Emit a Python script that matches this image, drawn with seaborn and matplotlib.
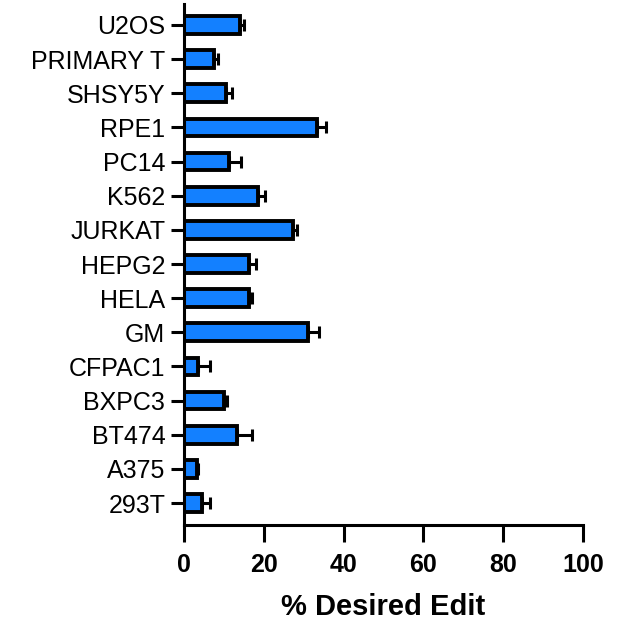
import numpy as np
import pandas as pd
import seaborn as sns
import matplotlib
matplotlib.use("Agg")
import matplotlib.pyplot as plt

# Editing efficiency per cell line (mean and upper error)
cell_lines = ["U2OS", "PRIMARY T", "SHSY5Y", "RPE1", "PC14", "K562", "JURKAT",
              "HEPG2", "HELA", "GM", "CFPAC1", "BXPC3", "BT474", "A375", "293T"]
edit_pct = [14.1, 7.6, 10.5, 33.3, 11.4, 18.5, 27.3,
            16.2, 16.3, 31.0, 3.5, 10.1, 13.4, 3.2, 4.6]
edit_err = [1.0, 0.8, 1.5, 2.2, 2.9, 1.8, 0.9,
            1.8, 0.8, 2.8, 3.0, 0.7, 3.7, 0.4, 1.8]
x_ticks = [0, 20, 40, 60, 80, 100]

df = pd.DataFrame({"cell": cell_lines, "pct": edit_pct, "err": edit_err})

sns.set_style("white")
plt.rcParams["font.family"] = ["Liberation Sans", "DejaVu Sans"]
plt.rcParams["text.color"] = "black"
plt.rcParams["axes.labelcolor"] = "black"
plt.rcParams["xtick.color"] = "black"
plt.rcParams["ytick.color"] = "black"

fig = plt.figure(figsize=(6.20, 6.21), dpi=100)
ax = fig.add_axes([184 / 620, 1 - 525 / 621, (583 - 184) / 620, (525 - 4) / 621])

bar_color = "#1380FF"
lw = 2.2
bar_lw = 2.8

# one-sided error bars, drawn under the bars
ax.errorbar(df["pct"], np.arange(len(df)),
            xerr=[np.zeros(len(df)), df["err"]],
            fmt="none", ecolor="black", elinewidth=lw, capsize=4.6,
            capthick=lw, zorder=1)

sns.barplot(data=df, x="pct", y="cell", orient="h", order=cell_lines,
            color=bar_color, saturation=1, width=0.52, errorbar=None,
            edgecolor="black", linewidth=bar_lw, ax=ax, zorder=2)

ax.set_xlim(0, 100)
ax.set_ylim(14.644, -0.615)
ax.set_xticks(x_ticks)
ax.set_xticklabels([str(t) for t in x_ticks], fontsize=18, fontweight="bold")
ax.set_yticks(np.arange(len(cell_lines)))
ax.set_yticklabels(cell_lines, fontsize=18)

ax.set_xlabel("% Desired Edit", fontsize=21, fontweight="bold", labelpad=12,
              color="black")
ax.set_ylabel("")

sns.despine(ax=ax, top=True, right=True)
for side in ("left", "bottom"):
    ax.spines[side].set_linewidth(lw)
    ax.spines[side].set_color("black")

ax.tick_params(axis="x", direction="out", length=12, width=lw, pad=8,
               colors="black", bottom=True)
ax.tick_params(axis="y", direction="out", length=9.5, width=lw, pad=4,
               colors="black", left=True)
ax.grid(False)

fig.savefig("out.png", dpi=100)
